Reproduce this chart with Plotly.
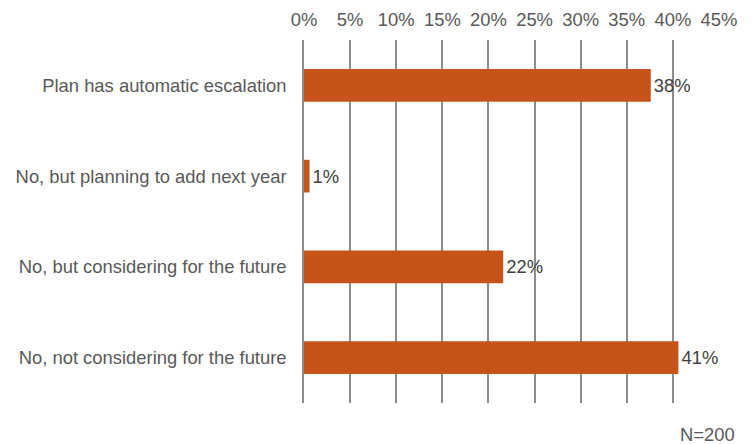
import plotly.graph_objects as go

categories = ["Plan has automatic escalation", "No, but planning to add next year",
              "No, but considering for the future", "No, not considering for the future"]
values = [37.6, 0.6, 21.6, 40.6]
tick_vals = [0, 5, 10, 15, 20, 25, 30, 35, 40, 45]
tick_text = ["0%", "5%", "10%", "15%", "20%", "25%", "30%", "35%", "40%", "45%"]
note = "N=200"

FONT = "Liberation Sans, Arial, sans-serif"
GRAY = "#595959"
GRID = "#8c8c8c"
FS = 18.4

fig = go.Figure(go.Bar(
    x=values, y=categories, orientation="h",
    marker=dict(color="#C5531A", line=dict(width=0)),
    width=0.36,
    texttemplate="%{x:.0f}%", textposition="outside",
    textfont=dict(family=FONT, size=FS, color="#404040"),
    cliponaxis=False,
))

fig.update_layout(
    width=753, height=444,
    margin=dict(l=304, r=34, t=40, b=41, autoexpand=False),
    paper_bgcolor="white", plot_bgcolor="white",
    showlegend=False,
    font=dict(family=FONT, size=FS, color=GRAY),
    xaxis=dict(side="top", range=[0, 45], tickvals=tick_vals, ticktext=tick_text,
               showgrid=True, gridcolor=GRID, gridwidth=1.5, automargin=False,
               zeroline=False, showline=False, ticks="", ticklabelstandoff=9,
               tickfont=dict(family=FONT, size=FS, color=GRAY)),
    yaxis=dict(autorange="reversed", showgrid=False, zeroline=False,
               showline=True, linecolor=GRID, linewidth=1.5, automargin=False,
               ticks="", ticklabelstandoff=12,
               tickfont=dict(family=FONT, size=FS, color=GRAY)),
    annotations=[dict(text=note, xref="paper", yref="paper", x=1.0, y=-0.088,
                      xanchor="right", yanchor="middle", showarrow=False,
                      xshift=18,
                      font=dict(family=FONT, size=FS, color=GRAY))],
)

fig.write_html("out.html", config={"displayModeBar": False},
               post_script="document.body.style.margin='0px';document.body.style.padding='0px';")
